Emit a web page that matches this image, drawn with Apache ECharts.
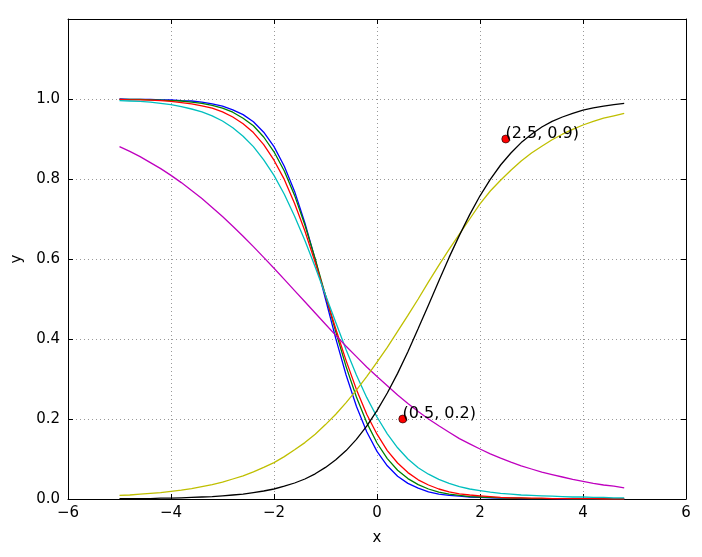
<!DOCTYPE html>
<html>
<head>
<meta charset="utf-8">
<script src="https://cdn.jsdelivr.net/npm/echarts/dist/echarts.min.js"></script>
<style>html,body{margin:0;padding:0;background:#fff;}#chart{width:702px;height:557px;}</style>
</head>
<body>
<div id="chart"></div>
<script>
var xs = [-5.0,-4.8,-4.6,-4.4,-4.2,-4.0,-3.8,-3.6,-3.4,-3.2,-3.0,-2.8,-2.6,-2.4,-2.2,-2.0,-1.8,-1.6,-1.4,-1.2,-1.0,-0.8,-0.6,-0.4,-0.2,0.0,0.2,0.4,0.6,0.8,1.0,1.2,1.4,1.6,1.8,2.0,2.2,2.4,2.6,2.8,3.0,3.2,3.4,3.6,3.8,4.0,4.2,4.4,4.6,4.8];

var blueY = [1.000,0.999,0.999,0.999,0.998,0.998,0.996,0.995,0.992,0.988,
0.982,0.973,0.961,0.943,0.917,0.881,0.832,0.769,0.690,0.599,
0.500,0.401,0.310,0.232,0.168,0.119,0.083,0.057,0.039,0.027,
0.018,0.012,0.009,0.007,0.005,0.004,0.003,0.002,0.002,0.001,
0.001,0.001,0.001,0.000,0.000,0.000,0.000,0.000,0.000,0.000];

var greenY = [0.999,0.999,0.999,0.998,0.997,0.996,0.995,0.992,0.989,0.984,
0.977,0.967,0.952,0.933,0.905,0.868,0.820,0.759,0.685,0.600,
0.509,0.418,0.331,0.255,0.191,0.140,0.101,0.072,0.051,0.036,
0.025,0.017,0.012,0.009,0.006,0.005,0.004,0.003,0.002,0.002,
0.001,0.001,0.001,0.001,0.000,0.000,0.000,0.000,0.000,0.000];

var redY = [0.999,0.998,0.998,0.997,0.996,0.994,0.991,0.988,0.983,0.977,
0.968,0.955,0.938,0.916,0.886,0.847,0.799,0.739,0.670,0.591,
0.508,0.425,0.346,0.274,0.212,0.162,0.121,0.090,0.066,0.048,
0.035,0.025,0.018,0.013,0.010,0.008,0.006,0.004,0.003,0.003,
0.002,0.002,0.001,0.001,0.001,0.001,0.001,0.000,0.000,0.000];

var cyanY = [0.996,0.995,0.994,0.992,0.989,0.986,0.981,0.975,0.968,0.958,
0.945,0.928,0.907,0.881,0.848,0.809,0.762,0.707,0.646,0.580,
0.510,0.441,0.373,0.310,0.254,0.205,0.163,0.128,0.100,0.078,
0.062,0.049,0.039,0.031,0.025,0.021,0.017,0.014,0.012,0.010,
0.009,0.008,0.007,0.006,0.005,0.005,0.004,0.004,0.003,0.003];

var magentaY = [0.881,0.869,0.856,0.841,0.826,0.809,0.791,0.771,0.751,0.729,
0.706,0.682,0.657,0.631,0.604,0.577,0.549,0.521,0.493,0.465,
0.437,0.409,0.382,0.356,0.330,0.306,0.283,0.260,0.239,0.219,
0.200,0.183,0.167,0.151,0.138,0.125,0.113,0.102,0.092,0.083,
0.075,0.067,0.061,0.055,0.049,0.044,0.039,0.035,0.032,0.028];

var yellowY = [0.009,0.010,0.012,0.014,0.016,0.019,0.022,0.026,0.031,0.036,
0.042,0.050,0.058,0.068,0.079,0.091,0.106,0.123,0.141,0.162,
0.186,0.212,0.241,0.272,0.306,0.342,0.379,0.419,0.459,0.500,
0.543,0.584,0.624,0.662,0.700,0.738,0.770,0.797,0.822,0.845,
0.865,0.882,0.898,0.912,0.924,0.935,0.944,0.952,0.958,0.964];

var blackY = [0.001,0.001,0.001,0.001,0.002,0.002,0.003,0.004,0.005,0.006,
0.008,0.010,0.012,0.016,0.020,0.025,0.032,0.040,0.050,0.063,
0.079,0.098,0.121,0.149,0.182,0.221,0.265,0.314,0.368,0.426,
0.485,0.545,0.604,0.659,0.711,0.758,0.799,0.835,0.865,0.891,
0.912,0.930,0.944,0.955,0.964,0.972,0.978,0.982,0.986,0.989];

var pointX = [0.5, 2.5];
var pointY = [0.2, 0.9];
var pointLabels = ['(0.5, 0.2)', '(2.5, 0.9)'];

var xTicks = [-6, -4, -2, 0, 2, 4, 6];
var yTicks = [0.0, 0.2, 0.4, 0.6, 0.8, 1.0];

var FONT = 'DejaVu Sans';

function pairs(ys) {
  return xs.map(function (x, i) { return [x, ys[i]]; });
}
function lineSeries(ys, color) {
  return {
    type: 'line', data: pairs(ys), showSymbol: false, symbol: 'none',
    lineStyle: { color: color, width: 1.3 }, itemStyle: { color: color },
    xAxisIndex: 0, yAxisIndex: 0, z: 3
  };
}

var chart = echarts.init(document.getElementById('chart'), null, { renderer: 'canvas' });

var tickStyle = { inside: true, length: 5, lineStyle: { color: '#000', width: 1 } };
var lineAxis = { show: true, onZero: false, lineStyle: { color: '#000', width: 1 } };
var gridStyle = { show: true, lineStyle: { color: '#999999', width: 1, type: [1, 3] } };

chart.setOption({
  animation: false,
  backgroundColor: '#fff',
  grid: { left: 68, top: 19, width: 618, height: 480, containLabel: false },
  xAxis: [
    {
      type: 'value', min: xTicks[0], max: xTicks[xTicks.length - 1], interval: 2, position: 'bottom',
      axisLine: lineAxis, axisTick: tickStyle,
      axisLabel: {
        margin: 7, fontSize: 15, color: '#000', fontFamily: FONT,
        formatter: function (v) { return v < 0 ? '\u2212' + (-v) : String(v); }
      },
      splitLine: gridStyle,
      name: 'x', nameLocation: 'middle', nameGap: 32,
      nameTextStyle: { fontSize: 15, color: '#000', fontFamily: FONT }
    },
    {
      type: 'value', min: xTicks[0], max: xTicks[xTicks.length - 1], interval: 2, position: 'top',
      axisLine: lineAxis, axisTick: tickStyle, axisLabel: { show: false }, splitLine: { show: false }
    }
  ],
  yAxis: [
    {
      type: 'value', min: 0, max: 1.2, interval: 0.2, position: 'left',
      axisLine: lineAxis, axisTick: tickStyle,
      axisLabel: {
        margin: 8, fontSize: 15, color: '#000', fontFamily: FONT,
        formatter: function (v) {
          for (var i = 0; i < yTicks.length; i++) {
            if (Math.abs(v - yTicks[i]) < 1e-9) return yTicks[i].toFixed(1);
          }
          return '';
        }
      },
      splitLine: gridStyle,
      name: 'y', nameLocation: 'middle', nameGap: 43,
      nameTextStyle: { fontSize: 15, color: '#000', fontFamily: FONT }
    },
    {
      type: 'value', min: 0, max: 1.2, interval: 0.2, position: 'right',
      axisLine: lineAxis, axisTick: tickStyle, axisLabel: { show: false }, splitLine: { show: false }
    }
  ],
  series: [
    lineSeries(blueY, '#0000ff'),
    lineSeries(greenY, '#008000'),
    lineSeries(redY, '#ff0000'),
    lineSeries(cyanY, '#00bfbf'),
    lineSeries(magentaY, '#bf00bf'),
    lineSeries(yellowY, '#bfbf00'),
    lineSeries(blackY, '#000000'),
    {
      type: 'scatter', xAxisIndex: 0, yAxisIndex: 0, z: 5,
      data: pointX.map(function (x, i) { return [x, pointY[i]]; }),
      symbol: 'circle', symbolSize: 8,
      itemStyle: { color: '#ff0000', borderColor: '#000', borderWidth: 0.6, opacity: 1 },
      label: {
        show: true, position: [4, 7], align: 'left', verticalAlign: 'bottom',
        fontSize: 16, color: '#000', fontFamily: FONT,
        formatter: function (p) { return pointLabels[p.dataIndex]; }
      }
    }
  ]
});
</script>
</body>
</html>
